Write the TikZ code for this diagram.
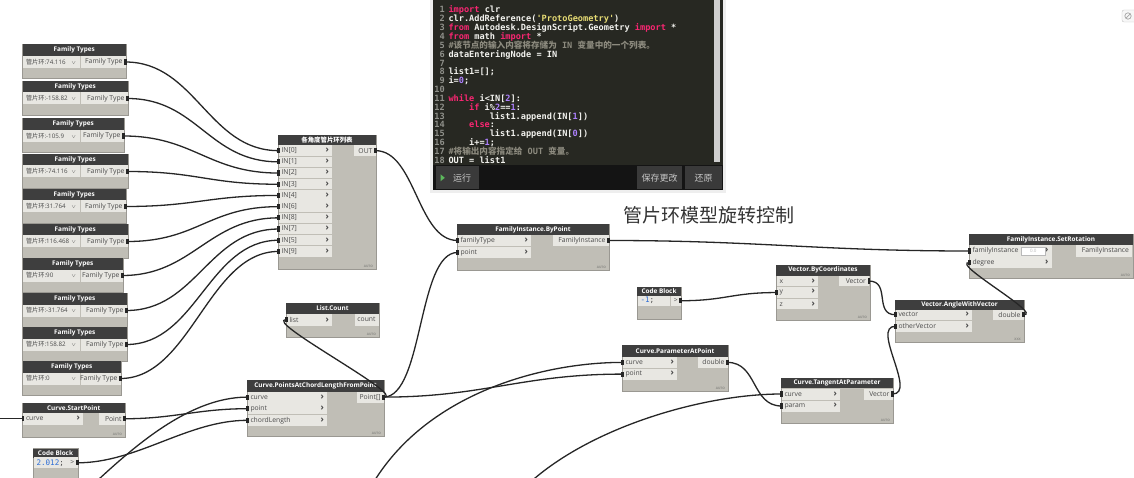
\documentclass[tikz,border=0pt]{standalone}
\usepackage{fontspec}
\setmainfont{Open Sans}
\newfontfamily\cjkf{Noto Sans CJK SC}
\newfontfamily\codef{DejaVu Sans Mono}
\usetikzlibrary{calc}
\definecolor{hdrc}{HTML}{3E3E3E}
\definecolor{bodyc}{HTML}{C0BEB6}
\definecolor{rowc}{HTML}{E8E7E2}
\definecolor{edgec}{HTML}{9A9892}
\definecolor{labc}{HTML}{4A4A4A}
\definecolor{footc}{HTML}{8A8A85}
\definecolor{wirec}{HTML}{262626}
\definecolor{codebg}{HTML}{272822}
\definecolor{barbg}{HTML}{141414}
\definecolor{btnc}{HTML}{3A3A3A}
\definecolor{btntxt}{HTML}{C8C8C8}
\definecolor{scrollc}{HTML}{CFCFCF}
\definecolor{panelc}{HTML}{EEEEEE}
\definecolor{kwc}{HTML}{F92672}
\definecolor{strc}{HTML}{E6DB74}
\definecolor{numc}{HTML}{AE81FF}
\definecolor{cmc}{HTML}{8C8A7E}
\definecolor{codew}{HTML}{F2F2EE}
\definecolor{lnc}{HTML}{8F908A}
\definecolor{cbblue}{HTML}{2E6ED6}
\definecolor{runc}{HTML}{5CB85C}
\definecolor{titlec}{HTML}{333333}
\newcommand{\dyhdrfont}{\bfseries\fontsize{6.4}{7}\selectfont}
\newcommand{\dylabfont}{\fontsize{6.8}{7}\selectfont}
\newcommand{\dyfootfont}{\bfseries\fontsize{3.2}{3.5}\selectfont}
\newcommand{\dycodefont}{\codef\bfseries\fontsize{8.6}{9}\selectfont}
\newcommand{\dycbfont}{\codef\fontsize{7.6}{8}\selectfont}
\newcommand{\ckw}[1]{\textcolor{kwc}{#1}}
\newcommand{\cstr}[1]{\textcolor{strc}{#1}}
\newcommand{\cnum}[1]{\textcolor{numc}{#1}}
\newcommand{\ccm}[1]{\textcolor{cmc}{#1}}
\newcommand{\dychev}{\hfill{\bfseries\fontsize{9}{7}\selectfont ›}}
\tikzset{
  nbody/.style={anchor=north west, fill=bodyc, draw=edgec, line width=0.4pt, inner sep=0pt, outer sep=0pt},
  nhdr/.style={anchor=north west, fill=hdrc, text=white, font=\dyhdrfont, inner sep=0pt, outer sep=0pt},
  prow/.style={anchor=north west, fill=rowc, text=labc, font=\dylabfont, inner xsep=3pt, inner ysep=0pt, outer sep=0pt},
  foot/.style={anchor=south east, text=footc, font=\dyfootfont, inner sep=0pt},
  wire/.style={draw=wirec, line width=1.3pt},
  codeln/.style={anchor=base west, text=codew, font=\dycodefont, inner sep=0pt},
  lnum/.style={anchor=base east, text=lnc, font=\dycodefont, inner sep=0pt},
  btn/.style={fill=btnc, text=btntxt, font=\cjkf\fontsize{9}{9}\selectfont, inner sep=0pt},
}
\newcommand{\dyNode}[7]{%
  \node[nbody, minimum width=#4pt, minimum height=#5pt] (#1) at (#2,#3) {};
  \node[nhdr, minimum width=#4pt, minimum height=#6pt] (#1-h) at (#2,#3) {#7};}
\newcommand{\dyrow}[7]{\node[prow, minimum height=#5pt] (#1) at (#2,#3) {\makebox[\dimexpr #4pt-6pt\relax][#6]{#7}};}
\newcommand{\dyFoot}[2]{\node[foot] (#1-f) at ([xshift=-3pt,yshift=1.5pt]#1.south east) {#2};}
\newcommand{\dyPin}[1]{\fill[wirec] ([xshift=-1.3pt,yshift=-2.6pt]#1) rectangle ([xshift=1.3pt,yshift=2.6pt]#1);}
\begin{document}
\begin{tikzpicture}[x=1pt,y=-1pt]
\useasboundingbox (0,0) rectangle (1134,478);
\clip (0,0) rectangle (1134,478);
\fill[white] (0,0) rectangle (1134,478);

% ---------- code editor panel ----------
\fill[panelc] (430,-3) rectangle (726,193);
\fill[codebg] (433,-3) rectangle (723,165.5);
\fill[barbg] (433,165.5) rectangle (723,190);
\fill[scrollc] (713.5,-3) rectangle (719.5,162);
\foreach \n in {1,...,18}{\pgfmathsetmacro\by{13+(\n-1)*8.84}\node[lnum] (ln\n) at (445,\by) {\n};}
\node[codeln] (c1) at (448.3,13) {\ckw{import} clr};
\node[codeln] (c2) at (448.3,21.84) {clr.AddReference(\cstr{'ProtoGeometry'})};
\node[codeln] (c3) at (448.3,30.68) {\ckw{from} Autodesk.DesignScript.Geometry \ckw{import} *};
\node[codeln] (c4) at (448.3,39.52) {\ckw{from} math \ckw{import} *};
\node[codeln] (c5) at (448.3,48.36) {\ccm{\#{\cjkf 该节点的输入内容将存储为} IN {\cjkf 变量中的一个列表。}}};
\node[codeln] (c6) at (448.3,57.2) {dataEnteringNode = IN};
\node[codeln] (c8) at (448.3,74.88) {list1=[];};
\node[codeln] (c9) at (448.3,83.72) {i=\cnum{0};};
\node[codeln] (c11) at (448.3,101.4) {\ckw{while} i<IN[\cnum{2}]:};
\node[codeln] (c12) at (469,110.24) {\ckw{if} i\%\cnum{2}==\cnum{1}:};
\node[codeln] (c13) at (489.6,119.08) {list1.append(IN[\cnum{1}])};
\node[codeln] (c14) at (469,127.92) {\ckw{else}:};
\node[codeln] (c15) at (489.6,136.76) {list1.append(IN[\cnum{0}])};
\node[codeln] (c16) at (469,145.6) {i+=\cnum{1};};
\node[codeln] (c17) at (448.3,154.44) {\ccm{\#{\cjkf 将输出内容指定给} OUT {\cjkf 变量。}}};
\node[codeln] (c18) at (448.3,163.28) {OUT = list1};
\node[btn, minimum width=43pt, minimum height=23pt] (brun) at (457.5,178) {\hspace{9pt}运行};
\fill[runc] (440.5,174.3) -- (444.8,177.8) -- (440.5,181.3) -- cycle;
\node[btn, minimum width=45pt, minimum height=23pt] (bsave) at (659.5,178) {保存更改};
\node[btn, minimum width=37pt, minimum height=23pt] (bundo) at (703.5,178) {还原};

% ---------- title ----------
\node[font=\cjkf\fontsize{19}{19}\selectfont, text=titlec, inner sep=0pt] (title) at (709,215.5) {管片环模型旋转控制};

% ---------- top right icon ----------
\node[draw=gray!45, fill=gray!6, rounded corners=2pt, minimum width=15pt, minimum height=12pt, inner sep=0pt] (icon) at (1129.5,16) {};
\draw[gray!70, line width=0.7pt] (1128,16) circle (3.2);
\draw[gray!70, line width=0.7pt] (1126,18) -- (1130,14);

% ---------- Family Types nodes ----------
\foreach \i/\t/\r/\v in {1/44.5/126/74.116,2/81/128/-158.82,3/118.5/124/-105.9,4/154/128/-74.116,5/189/126/31.764,6/224/128/116.468,7/258/123/90,8/293/127/-31.764,9/327/127/158.82,10/361/121/0}{
  \pgfmathsetmacro\w{\r-22.5}
  \pgfmathsetmacro\ry{\t+11.5}
  \pgfmathsetmacro\ow{\r-81.5}
  \dyNode{ft\i}{22.5}{\t}{\w}{34}{11.5}{Family Types}
  \dyrow{ft\i-d}{23}{\ry}{57}{12}{l}{\fontsize{6.2}{6}\selectfont{\cjkf 管片环}:\v\hfill{\fontsize{5}{5}\selectfont$\vee$}\hspace{1pt}}
  \dyrow{ft\i-o}{81}{\ry}{\ow}{12}{r}{Family Type}
}

% ---------- Python node ----------
\dyNode{py}{278}{135}{98}{134}{10.5}{{\cjkf\bfseries 各角度管片环列表}}
\foreach \k/\lab in {0/0,1/1,2/2,3/3,4/4,5/6,6/8,7/7,8/5,9/9}{
  \pgfmathsetmacro\ry{145.5+\k*11.2}
  \dyrow{py-i\k}{278.5}{\ry}{53.5}{10.3}{l}{IN[\lab]\dychev}
}
\dyrow{py-o}{354}{145.5}{21.5}{10.3}{r}{OUT}
\dyFoot{py}{AUTO}

% ---------- FamilyInstance.ByPoint ----------
\dyNode{fibp}{457}{224}{152}{46}{11}{FamilyInstance.ByPoint}
\dyrow{fibp-i1}{457.5}{235}{73.5}{11}{l}{familyType\dychev}
\dyrow{fibp-i2}{457.5}{247}{73.5}{11}{l}{point\dychev}
\dyrow{fibp-o}{553}{235}{55.5}{11}{r}{FamilyInstance}
\dyFoot{fibp}{AUTO}

% ---------- FamilyInstance.SetRotation ----------
\dyNode{sr}{969}{234}{164}{44}{11.5}{FamilyInstance.SetRotation}
\dyrow{sr-i1}{969.5}{245.5}{82}{11}{l}{familyInstance\dychev}
\dyrow{sr-i2}{969.5}{257}{82}{11}{l}{degree\dychev}
\dyrow{sr-o}{1076}{245.5}{56}{11}{r}{FamilyInstance}
\node[draw=gray!55, fill=white, minimum width=24pt, minimum height=7.5pt, inner sep=0pt, anchor=north west, font=\fontsize{4.5}{5}\selectfont, text=gray!55] (sr-sp) at (1021,247.3) {0.0\hspace{8pt}};
\dyFoot{sr}{AUTO}

% ---------- Code Block -1 ----------
\dyNode{cb1}{637}{287}{44}{32}{9}{Code Block}
\dyrow{cb1-c}{637.5}{296}{32.5}{9.5}{l}{\dycbfont\textcolor{cbblue}{-1};}
\dyrow{cb1-o}{671}{296}{9.5}{9.5}{c}{>}

% ---------- Vector.ByCoordinates ----------
\dyNode{vbc}{776}{265}{94}{55}{10.5}{Vector.ByCoordinates}
\dyrow{vbc-i1}{776.5}{275.8}{41.5}{10.5}{l}{x\dychev}
\dyrow{vbc-i2}{776.5}{287.3}{41.5}{10.5}{l}{y\dychev}
\dyrow{vbc-i3}{776.5}{298.8}{41.5}{10.5}{l}{z\dychev}
\dyrow{vbc-o}{839}{275.8}{30}{10.5}{r}{Vector}
\dyFoot{vbc}{AUTO}

% ---------- Vector.AngleWithVector ----------
\dyNode{avw}{895}{300}{129}{42}{9.5}{Vector.AngleWithVector}
\dyrow{avw-i1}{895.5}{309.5}{76.5}{10.5}{l}{vector\dychev}
\dyrow{avw-i2}{895.5}{321}{76.5}{10.5}{l}{otherVector\dychev}
\dyrow{avw-o}{993}{309.5}{30.5}{10.5}{r}{double}
\dyFoot{avw}{XXX}

% ---------- List.Count ----------
\dyNode{lc}{286}{303}{93}{34}{11}{List.Count}
\dyrow{lc-i}{286.5}{314}{45.5}{11.5}{l}{list\dychev}
\dyrow{lc-o}{355}{314}{23.5}{11.5}{r}{count}
\dyFoot{lc}{AUTO}

% ---------- Curve.PointsAtChordLengthFromPoint ----------
\dyNode{pac}{247}{380}{137}{56}{11.5}{Curve.PointsAtChordLengthFromPoint}
\dyrow{pac-i1}{247.5}{391.7}{79.5}{10.8}{l}{curve\dychev}
\dyrow{pac-i2}{247.5}{403.3}{79.5}{10.8}{l}{point\dychev}
\dyrow{pac-i3}{247.5}{414.9}{79.5}{10.8}{l}{chordLength\dychev}
\dyrow{pac-o}{357}{391.7}{26.5}{10.8}{r}{Point[]}
\dyFoot{pac}{AUTO}

% ---------- Curve.StartPoint ----------
\dyNode{sp}{22.5}{403}{102.5}{34}{10}{Curve.StartPoint}
\dyrow{sp-i}{23}{413}{60}{11.5}{l}{curve\dychev}
\dyrow{sp-o}{99}{413}{25.5}{11.5}{r}{Point}
\dyFoot{sp}{AUTO}

% ---------- Code Block 2.012 ----------
\dyNode{cb2}{33}{448.5}{45}{35}{9}{Code Block}
\dyrow{cb2-c}{33.5}{457.3}{33}{11}{l}{\dycbfont\textcolor{cbblue}{2.012};}
\dyrow{cb2-o}{67}{457.3}{10.5}{11}{c}{>}

% ---------- Curve.ParameterAtPoint ----------
\dyNode{pap}{622}{345}{106}{46}{11.5}{Curve.ParameterAtPoint}
\dyrow{pap-i1}{622.5}{357}{54.5}{10.8}{l}{curve\dychev}
\dyrow{pap-i2}{622.5}{368.7}{54.5}{10.8}{l}{point\dychev}
\dyrow{pap-o}{698}{357}{29.5}{10.8}{r}{double}
\dyFoot{pap}{AUTO}

% ---------- Curve.TangentAtParameter ----------
\dyNode{tap}{781}{378}{112}{45}{10.3}{Curve.TangentAtParameter}
\dyrow{tap-i1}{781.5}{388.5}{58.5}{11}{l}{curve\dychev}
\dyrow{tap-i2}{781.5}{400.5}{58.5}{11}{l}{param\dychev}
\dyrow{tap-o}{864}{388.5}{28.5}{11}{r}{Vector}
\dyFoot{tap}{AUTO}

% ---------- wires ----------
\foreach \i in {1,...,10}{
  \pgfmathtruncatemacro\k{\i-1}
  \draw[wire] (ft\i-o.east) .. controls +(70,0) and +(-70,0) .. (py-i\k.west);
  \dyPin{ft\i-o.east}
  \dyPin{py-i\k.west}
}
\draw[wire] (py-o.east) .. controls +(40,0) and +(-40,0) .. (fibp-i1.west);
\draw[wire] (pac-o.east) .. controls +(40,0) and +(-40,0) .. (fibp-i2.west);
\draw[wire] (pac-o.east) .. controls +(25,0) and +(-25,0) .. (lc-i.west);
\draw[wire] (pac-o.east) .. controls +(100,0) and +(-100,0) .. (pap-i2.west);
\draw[wire] (fibp-o.east) .. controls +(150,0) and +(-150,0) .. (sr-i1.west);
\draw[wire] (cb1-o.east) .. controls +(45,0) and +(-45,0) .. (vbc-i2.west);
\draw[wire] (vbc-o.east) .. controls +(22,0) and +(-22,0) .. (avw-i1.west);
\draw[wire] (avw-o.east) .. controls +(20,0) and +(-20,0) .. (sr-i2.west);
\draw[wire] (tap-o.east) .. controls +(25,0) and +(-25,0) .. (avw-i2.west);
\draw[wire] (pap-o.east) .. controls +(30,0) and +(-30,0) .. (tap-i2.west);
\draw[wire] (sp-o.east) .. controls +(50,0) and +(-50,0) .. (pac-i2.west);
\draw[wire] (cb2-o.east) .. controls +(60,0) and +(-60,0) .. (pac-i3.west);
\coordinate (srcA) at (85,492);
\coordinate (srcB) at (368,492);
\coordinate (srcC) at (520,492);
\coordinate (srcL) at (-5,418.75);
\draw[wire] (srcA) .. controls (125,455) and (185,397) .. (pac-i1.west);
\draw[wire] (srcB) .. controls (420,395) and (540,362.4) .. (pap-i1.west);
\draw[wire] (srcC) .. controls (580,430) and (700,394) .. (tap-i1.west);
\draw[wire] (srcL) -- (sp-i.west);
\foreach \p in {py-o.east,pac-o.east,fibp-i1.west,fibp-i2.west,lc-i.west,pap-i1.west,pap-i2.west,fibp-o.east,sr-i1.west,sr-i2.west,cb1-o.east,vbc-i2.west,vbc-o.east,avw-i1.west,avw-i2.west,avw-o.east,tap-o.east,tap-i1.west,tap-i2.west,pap-o.east,sp-o.east,sp-i.west,cb2-o.east,pac-i1.west,pac-i2.west,pac-i3.west}{\dyPin{\p}}
\end{tikzpicture}
\end{document}
